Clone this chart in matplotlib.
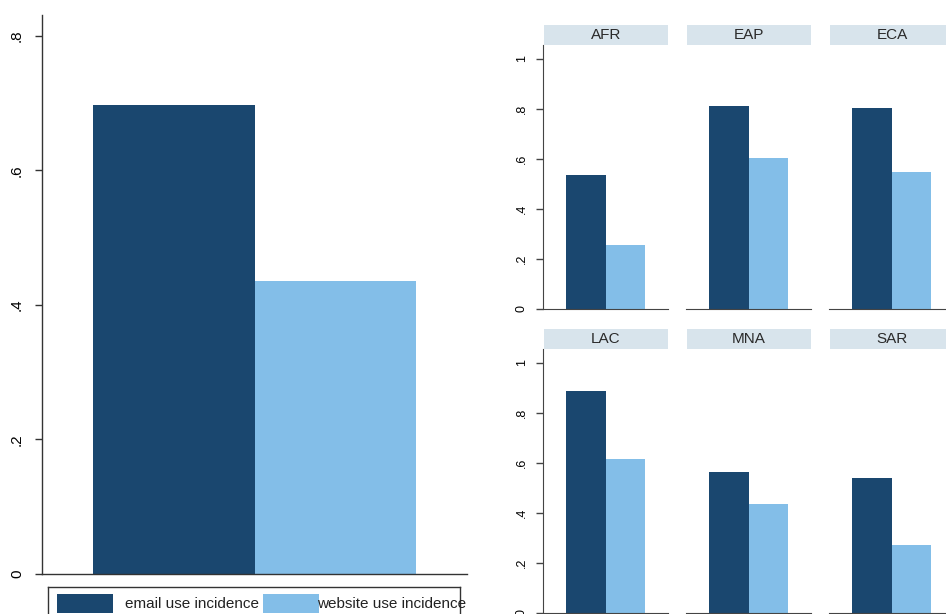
import matplotlib
matplotlib.use('Agg')
import matplotlib.pyplot as plt

plt.rcParams['font.family'] = ['Liberation Sans', 'DejaVu Sans']

# overall shares
series = ['email use incidence', 'website use incidence']
overall = [0.697, 0.436]

# by region
regions = ['AFR', 'EAP', 'ECA', 'LAC', 'MNA', 'SAR']
email_by_region = [0.536, 0.812, 0.804, 0.888, 0.564, 0.540]
website_by_region = [0.256, 0.604, 0.548, 0.616, 0.436, 0.272]

dark = '#1a476f'
light = '#83bee8'
strip_col = '#d8e4ec'
W, H = 946, 614


def box(x0, y0, x1, y1):
    # pixel box (top-left origin) -> figure fraction rect
    return [x0 / W, 1 - y1 / H, (x1 - x0) / W, (y1 - y0) / H]


def fmt(v):
    s = '%g' % v
    return s[1:] if s.startswith('0.') else s


fig = plt.figure(figsize=(9.46, 6.14), dpi=100)

# left panel: overall
ax = fig.add_axes(box(42, 15, 467, 574))
ax.bar([0, 1], overall, width=1.0, color=[dark, light], linewidth=0)
ax.set_xlim(-0.817, 1.814)
ax.set_ylim(0, 0.831)
ticks = [0, 0.2, 0.4, 0.6, 0.8]
ax.set_yticks(ticks)
ax.set_yticklabels([fmt(t) for t in ticks], rotation=90, va='center', fontsize=11)
ax.set_xticks([])
for s in ['top', 'right']:
    ax.spines[s].set_visible(False)
for s in ['left', 'bottom']:
    ax.spines[s].set_color('#333333')
    ax.spines[s].set_linewidth(1.0)
ax.tick_params(axis='y', length=5, width=1, color='#333333', pad=8)

# legend box under left panel
lax = fig.add_axes(box(48, 587, 460, 640))
lax.set_xticks([])
lax.set_yticks([])
for s in lax.spines.values():
    s.set_color('#333333')
    s.set_linewidth(1.0)
lax.set_xlim(48, 460)
lax.set_ylim(640, 587)
lax.add_patch(plt.Rectangle((57, 594), 56, 19, color=dark, lw=0))
lax.add_patch(plt.Rectangle((263, 594), 56, 19, color=light, lw=0))
lax.text(125, 604, series[0], fontsize=11, va='center', ha='left', color='#222222')
lax.text(317, 604, series[1], fontsize=11, va='center', ha='left', color='#222222',
         clip_on=False)

# right panels: by region
col_left = [543, 686, 829]
row_top = [45, 349]
row_bottom = [309, 613]
pw = 125
rticks = [0, 0.2, 0.4, 0.6, 0.8, 1]

for i, reg in enumerate(regions):
    r, c = divmod(i, 3)
    x0 = col_left[c]
    a = fig.add_axes(box(x0, row_top[r], x0 + pw, row_bottom[r]))
    a.bar([-0.5, 0.5], [email_by_region[i], website_by_region[i]],
          width=1.0, color=[dark, light], linewidth=0)
    a.set_xlim(-1.6, 1.6)
    a.set_ylim(0, 1.056)
    a.set_xticks([])
    for s in ['top', 'right']:
        a.spines[s].set_visible(False)
    a.spines['bottom'].set_color('#444444')
    if c == 0:
        a.set_yticks(rticks)
        a.set_yticklabels([fmt(t) for t in rticks], rotation=90, va='center', fontsize=9)
        a.spines['left'].set_color('#444444')
        a.tick_params(axis='y', length=5, width=1, color='#444444', pad=6)
    else:
        a.set_yticks([])
        a.spines['left'].set_visible(False)

    # strip title
    sax = fig.add_axes(box(x0 + 1, row_top[r] - 20, x0 + pw, row_top[r]))
    sax.set_facecolor(strip_col)
    sax.set_xticks([])
    sax.set_yticks([])
    for s in sax.spines.values():
        s.set_visible(False)
    sax.text(0.5, 0.5, reg, transform=sax.transAxes, ha='center', va='center',
             fontsize=11, color='#2a2a2a')

fig.savefig('out.png', dpi=100)
